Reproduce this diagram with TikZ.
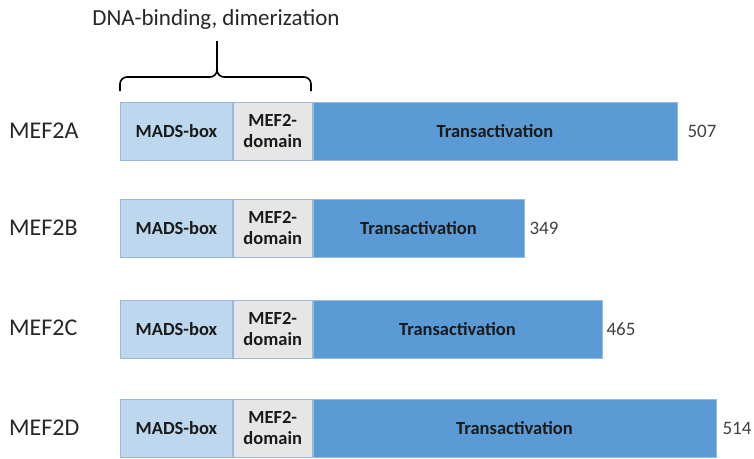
\documentclass[tikz,border=0pt]{standalone}
\usepackage{fontspec}
\setmainfont{Carlito}
\definecolor{madsc}{HTML}{BDD7EE}
\definecolor{mefc}{HTML}{E7E6E6}
\definecolor{transc}{HTML}{5B9BD5}
\definecolor{segline}{HTML}{9DB9DA}
\definecolor{txt}{HTML}{1A1A1A}
\definecolor{labc}{HTML}{262626}
\definecolor{numc}{HTML}{404040}
\begin{document}
\begin{tikzpicture}[x=1pt,y=-1pt,
  seg/.style={draw=segline, line width=0.8pt, minimum height=58pt, inner sep=0pt,
    anchor=north west, font=\fontsize{18.5}{21}\selectfont\bfseries, text=txt, align=center},
  mads/.style={seg, fill=madsc, minimum width=112pt},
  mef/.style={seg, fill=mefc, minimum width=79pt},
  trans/.style={seg, fill=transc},
  protname/.style={font=\fontsize{24}{28}\selectfont, text=labc, anchor=west, inner sep=0pt},
  len/.style={font=\fontsize{19}{22}\selectfont, text=numc, anchor=west, inner sep=0pt},
  bracket/.style={line width=1.6pt, black, rounded corners=7pt}]
\useasboundingbox (0,0) rectangle (754,458);

% header and bracket
\node[font=\fontsize{23}{27}\selectfont, text=labc, inner sep=0pt] (hdr) at (216,19) {DNA-binding, dimerization};
\coordinate (bl) at (120,91);
\coordinate (br) at (311,91);
\coordinate (btip) at (217,41);
\draw[bracket] (bl) |- (217,77) -- (btip);
\draw[bracket] (br) |- (217,77) -- (btip);

% MEF2A
\node[mads] (a1) at (120,102) {MADS-box};
\node[mef] (a2) at (a1.north east) {MEF2-\\domain};
\node[trans, minimum width=364pt] (a3) at (a2.north east) {Transactivation};
\node[len] (a4) at ([xshift=10pt]a3.east) {507};
\node[protname] (a0) at (9,131) {MEF2A};

% MEF2B
\node[mads] (b1) at (120,199) {MADS-box};
\node[mef] (b2) at (b1.north east) {MEF2-\\domain};
\node[trans, minimum width=211pt] (b3) at (b2.north east) {Transactivation};
\node[len] (b4) at ([xshift=5pt]b3.east) {349};
\node[protname] (b0) at (9,228) {MEF2B};

% MEF2C
\node[mads] (c1) at (120,300) {MADS-box};
\node[mef] (c2) at (c1.north east) {MEF2-\\domain};
\node[trans, minimum width=289pt] (c3) at (c2.north east) {Transactivation};
\node[len] (c4) at ([xshift=4pt]c3.east) {465};
\node[protname] (c0) at (9,328) {MEF2C};

% MEF2D
\node[mads] (d1) at (120,399) {MADS-box};
\node[mef] (d2) at (d1.north east) {MEF2-\\domain};
\node[trans, minimum width=403pt] (d3) at (d2.north east) {Transactivation};
\node[len] (d4) at ([xshift=6pt]d3.east) {514};
\node[protname] (d0) at (9,428) {MEF2D};
\end{tikzpicture}
\end{document}
